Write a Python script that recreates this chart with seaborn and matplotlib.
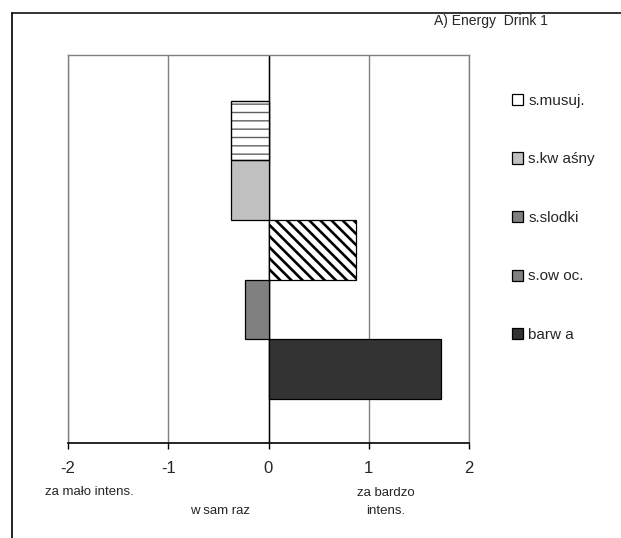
import matplotlib
matplotlib.use("Agg")
import matplotlib.pyplot as plt
import seaborn as sns
import pandas as pd
from matplotlib.patches import Patch, Rectangle
from matplotlib.lines import Line2D

# ---- data ----
categories = ["s.musuj.", "s.kw aśny", "s.slodki", "s.ow oc.", "barw a"]
values = [-0.37, -0.37, 0.87, -0.23, 1.72]
colors = ["#ffffff", "#c0c0c0", "#ffffff", "#808080", "#333333"]
hatches = ["--", "", "\\\\\\", "", ""]
legend_colors = ["#ffffff", "#c0c0c0", "#808080", "#808080", "#333333"]
legend_hatches = ["-", "", "", "", ""]
xticks = [-2, -1, 0, 1, 2]
title = "A) Energy  Drink 1"

sns.set_theme(style="white")
plt.rcParams["font.family"] = ["Liberation Sans", "DejaVu Sans"]
plt.rcParams["hatch.linewidth"] = 1.9

W, H = 621, 538
fig = plt.figure(figsize=(W / 100, H / 100), dpi=100)
ax = fig.add_axes([68 / W, 1 - 443 / H, (469 - 68) / W, (443 - 55) / H])

df = pd.DataFrame({"cat": categories, "val": values})
sns.barplot(data=df, x="val", y="cat", hue="cat", palette=colors, order=categories,
            hue_order=categories, width=1.0, orient="h", legend=False, ax=ax,
            edgecolor="black", linewidth=0.9, zorder=3)
for patch, h in zip(ax.patches, hatches):
    if h:
        patch.set_hatch(h)
        if h.startswith("-"):
            # dashed fill: grey hatch lines, black outline on top
            patch.set_edgecolor("#606060")
            if hasattr(patch, "set_hatch_linewidth"):
                patch.set_hatch_linewidth(1.0)
            ax.add_patch(Rectangle(patch.get_xy(), patch.get_width(), patch.get_height(),
                                   fill=False, edgecolor="black", linewidth=0.9, zorder=4))

ax.set_xlim(-2, 2)
ax.set_ylim(5.24, -1.27)
ax.set_xticks(xticks)
ax.set_xticklabels([str(t) for t in xticks], fontsize=12)
ax.set_yticks([])
ax.set_xlabel("")
ax.set_ylabel("")
ax.xaxis.grid(True, color="#808080", linewidth=1.0, zorder=0)
ax.set_axisbelow(True)
ax.axvline(0, color="black", linewidth=1.0, zorder=2)
ax.tick_params(axis="x", direction="out", length=4, width=1, color="black", pad=9,
               bottom=True)
for s in ["left", "top", "right"]:
    ax.spines[s].set_color("#808080")
    ax.spines[s].set_linewidth(1.0)
ax.spines["bottom"].set_color("black")
ax.spines["bottom"].set_linewidth(1.2)

# legend
handles = [Patch(facecolor=c, edgecolor="black", hatch=h, linewidth=0.9)
           for c, h in zip(legend_colors, legend_hatches)]
leg = fig.legend(handles, categories, loc="upper left",
                 bbox_to_anchor=(504 / W, 1 - 86 / H), frameon=False,
                 fontsize=11, handlelength=0.75, handleheight=0.75,
                 handletextpad=0.35, labelspacing=2.92, borderpad=0)
for hp in leg.legend_handles:
    if hasattr(hp, "set_hatch_linewidth"):
        hp.set_hatch_linewidth(0.8)

# frame lines of the original chart area
fig.add_artist(Line2D([12 / W, 1.0], [1 - 13 / H, 1 - 13 / H], color="#333333",
                      linewidth=1.4, transform=fig.transFigure))
fig.add_artist(Line2D([12 / W, 12 / W], [1 - 13 / H, 0], color="black",
                      linewidth=1.2, transform=fig.transFigure))

# title and axis annotations
fig.text(491 / W, 1 - 21 / H, title, ha="center", va="center", fontsize=10)
fig.text(89 / W, 1 - 492 / H, "za mało intens.", ha="center", va="center", fontsize=9.5)
fig.text(220 / W, 1 - 511 / H, "w sam raz", ha="center", va="center", fontsize=9.5)
fig.text(386 / W, 1 - 502 / H, "za bardzo\nintens.", ha="center", va="center",
         fontsize=9.5, linespacing=1.6)

fig.savefig("out.png", dpi=100, facecolor="white")
